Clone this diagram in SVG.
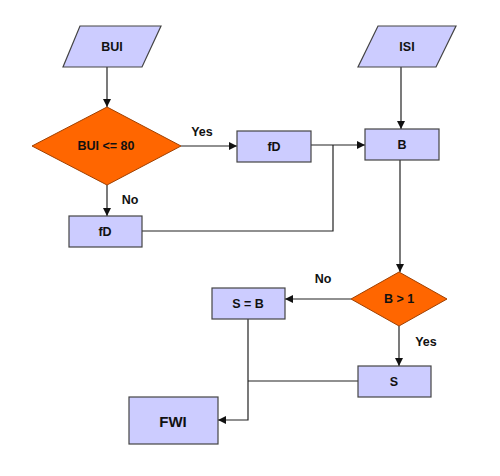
<svg xmlns="http://www.w3.org/2000/svg" width="500" height="476" viewBox="0 0 500 476">
<defs>
<style>
.box{fill:#ccccff;stroke:#444;stroke-width:1.2}
.dia{fill:#ff6600;stroke:#a04000;stroke-width:1}
.t{font-family:"Liberation Sans",Arial,sans-serif;font-size:12.5px;font-weight:bold;fill:#111;text-anchor:middle;dominant-baseline:central}
.lbl{font-family:"Liberation Sans",Arial,sans-serif;font-size:12.5px;font-weight:bold;fill:#111;text-anchor:middle;dominant-baseline:central}
.ln{fill:none;stroke:#222;stroke-width:1.2}
</style>
<marker id="ah" viewBox="0 0 10 10" refX="10" refY="5" markerWidth="8" markerHeight="8" markerUnits="userSpaceOnUse" orient="auto">
<path d="M0,0 L10,5 L0,10 z" fill="#111"/>
</marker>
</defs>
<rect width="500" height="476" fill="#fff"/>
<g id="connectors">
<line class="ln" x1="107" y1="67" x2="107" y2="107" marker-end="url(#ah)"/>
<line class="ln" x1="181" y1="146" x2="237" y2="146" marker-end="url(#ah)"/>
<line class="ln" x1="107" y1="185" x2="107" y2="216" marker-end="url(#ah)"/>
<line class="ln" x1="311" y1="145" x2="365" y2="145" marker-end="url(#ah)"/>
<polyline class="ln" points="142,231 333,231 333,145"/>
<line class="ln" x1="401" y1="67" x2="401" y2="129" marker-end="url(#ah)"/>
<line class="ln" x1="400" y1="160" x2="400" y2="272" marker-end="url(#ah)"/>
<line class="ln" x1="351" y1="299" x2="285" y2="299" marker-end="url(#ah)"/>
<line class="ln" x1="399" y1="326" x2="399" y2="366" marker-end="url(#ah)"/>
<polyline class="ln" points="358,381 248,381"/>
<polyline class="ln" points="248,319 248,420 218,420" marker-end="url(#ah)"/>
<text class="lbl" x="202" y="132">Yes</text>
<text class="lbl" x="130" y="200">No</text>
<text class="lbl" x="323" y="279">No</text>
<text class="lbl" x="426" y="342">Yes</text>
</g>
<g id="bui">
<polygon class="box" points="80,26 161,26 142,67 63,67"/>
<text class="t" x="112" y="47">BUI</text>
</g>
<g id="isi">
<polygon class="box" points="378,26 456,26 436,67 358,67"/>
<text class="t" x="407" y="47">ISI</text>
</g>
<g id="dec1">
<polygon class="dia" points="107,107 181,146 107,185 32,146"/>
<text class="t" x="106" y="146">BUI &lt;= 80</text>
</g>
<g id="fd1">
<rect class="box" x="237" y="131" width="74" height="31"/>
<text class="t" x="274" y="147">fD</text>
</g>
<g id="fd2">
<rect class="box" x="69" y="216" width="73" height="31"/>
<text class="t" x="105" y="232">fD</text>
</g>
<g id="b">
<rect class="box" x="365" y="129" width="74" height="31"/>
<text class="t" x="402" y="145">B</text>
</g>
<g id="dec2">
<polygon class="dia" points="399,272 447,299 399,326 351,299"/>
<text class="t" x="399" y="299">B &gt; 1</text>
</g>
<g id="sb">
<rect class="box" x="212" y="288" width="73" height="31"/>
<text class="t" x="248" y="304">S = B</text>
</g>
<g id="s">
<rect class="box" x="358" y="366" width="73" height="31"/>
<text class="t" x="394" y="382">S</text>
</g>
<g id="fwi">
<rect class="box" x="129" y="397" width="89" height="47"/>
<text class="t" x="173" y="421" style="font-size:15px">FWI</text>
</g>
</svg>
